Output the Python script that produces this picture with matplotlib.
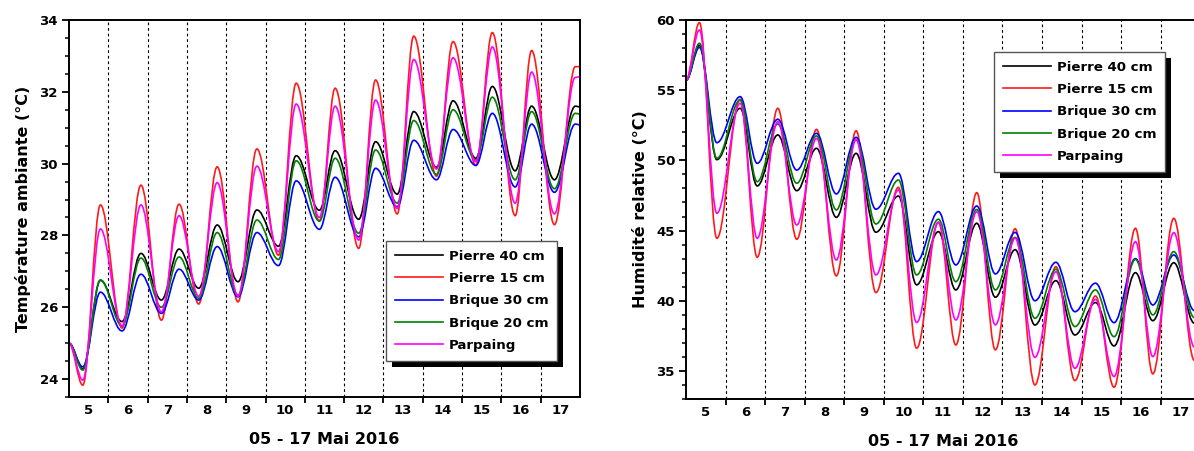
import matplotlib
matplotlib.use("Agg")
import matplotlib.pyplot as plt
from matplotlib.path import Path
from matplotlib.patches import PathPatch, Rectangle
from matplotlib.lines import Line2D

# ---- data (daily extrema, time in days of May 2016) ----
day_labels = ["5", "6", "7", "8", "9", "10", "11", "12", "13", "14", "15", "16", "17"]
series_names = ["Pierre 40 cm", "Pierre 15 cm", "Brique 30 cm", "Brique 20 cm", "Parpaing"]

temp_t = [5.0, 5.35, 5.8, 6.35, 6.83, 7.35, 7.8, 8.3, 8.77, 9.3, 9.78, 10.33, 10.78, 11.37,
          11.77, 12.37, 12.8, 13.35, 13.77, 14.35, 14.77, 15.35, 15.77, 16.35, 16.77, 17.35, 17.88, 18.0]
temp_pierre40 = [25.0, 24.28, 26.75, 25.6, 27.5, 26.2, 27.62, 26.53, 28.29, 26.71, 28.71, 27.7, 30.22, 28.7,
                 30.36, 28.45, 30.61, 29.15, 31.45, 29.9, 31.75, 30.15, 32.15, 29.8, 31.6, 29.55, 31.6, 31.58]
temp_pierre15 = [25.0, 23.83, 28.85, 25.42, 29.4, 25.64, 28.87, 26.09, 29.91, 26.15, 30.41, 27.45, 32.24, 28.4,
                 32.1, 27.64, 32.33, 28.6, 33.55, 29.65, 33.4, 29.95, 33.65, 28.55, 33.15, 28.3, 32.7, 32.7]
temp_brique30 = [25.0, 24.34, 26.42, 25.34, 26.92, 25.83, 27.06, 26.2, 27.69, 26.29, 28.08, 27.16, 29.52, 28.17,
                 29.62, 27.96, 29.87, 28.8, 30.65, 29.55, 30.95, 29.95, 31.4, 29.35, 31.1, 29.2, 31.1, 31.08]
temp_brique20 = [25.0, 24.25, 26.76, 25.48, 27.37, 26.0, 27.4, 26.25, 28.08, 26.34, 28.43, 27.33, 30.08, 28.4,
                 30.15, 28.06, 30.38, 28.9, 31.2, 29.7, 31.5, 30.1, 31.85, 29.55, 31.45, 29.3, 31.4, 31.38]
temp_parpaing = [25.0, 23.97, 28.18, 25.48, 28.85, 25.87, 28.55, 26.3, 29.47, 26.31, 29.93, 27.55, 31.66, 28.5,
                 31.6, 27.87, 31.77, 28.75, 32.9, 29.85, 32.95, 30.05, 33.25, 28.9, 32.55, 28.6, 32.4, 32.42]

hum_t = [5.0, 5.34, 5.78, 6.37, 6.8, 7.32, 7.8, 8.3, 8.8, 9.3, 9.8, 10.37, 10.83, 11.38,
         11.82, 12.35, 12.82, 13.32, 13.82, 14.35, 14.83, 15.35, 15.82, 16.36, 16.8, 17.33, 17.85, 18.0]
hum_pierre40 = [55.7, 58.2, 50.05, 53.71, 48.18, 51.81, 47.84, 50.86, 45.94, 50.5, 44.88, 47.46, 41.13, 44.92,
                40.77, 45.52, 40.25, 43.64, 38.27, 41.43, 37.56, 39.87, 36.78, 42.0, 38.58, 42.71, 38.4, 38.5]
hum_pierre15 = [55.7, 59.81, 44.45, 54.35, 43.1, 53.71, 44.38, 52.21, 41.77, 52.11, 40.58, 48.08, 36.62, 45.6,
                36.85, 47.7, 36.5, 45.13, 34.0, 42.43, 34.31, 40.34, 33.84, 45.16, 34.79, 45.87, 35.75, 35.8]
hum_brique30 = [55.7, 58.05, 51.26, 54.54, 49.79, 52.93, 49.31, 51.93, 47.61, 51.64, 46.52, 49.08, 42.79, 46.35,
                42.55, 46.75, 41.91, 44.87, 40.0, 42.74, 39.22, 41.25, 38.44, 43.0, 39.7, 43.26, 39.3, 39.4]
hum_brique20 = [55.7, 58.34, 50.15, 54.3, 48.48, 52.59, 48.37, 51.74, 46.47, 51.45, 45.47, 48.6, 41.84, 45.81,
                41.36, 46.5, 40.77, 44.51, 38.75, 42.24, 38.16, 40.77, 37.44, 42.95, 38.99, 43.5, 38.8, 38.9]
hum_parpaing = [55.7, 59.29, 46.23, 54.07, 44.45, 52.76, 45.4, 51.57, 42.9, 51.5, 41.84, 47.89, 38.45, 45.57,
                38.63, 46.35, 38.28, 44.46, 35.97, 42.07, 35.19, 40.1, 34.6, 44.21, 36.02, 44.85, 36.7, 36.8]

colors = ["#000000", "#ff1a1a", "#0000ff", "#008000", "#ff00ff"]
FONT = "DejaVu Sans"


def smooth_path(t, v, k=0.363):
    # bezier through the extrema with flat tangents (looks like the daily cycle)
    verts = [(t[0], v[0])]
    codes = [Path.MOVETO]
    for i in range(1, len(t)):
        dt = t[i] - t[i - 1]
        verts += [(t[i - 1] + k * dt, v[i - 1]), (t[i] - k * dt, v[i]), (t[i], v[i])]
        codes += [Path.CURVE4] * 3
    return Path(verts, codes)


def style_axes(ax, ylim, ymajor, yminor, ylabel, legend_xy):
    ax.set_xlim(5, 18)
    ax.set_ylim(*ylim)
    days = list(range(5, 18))
    ax.set_xticks(days[1:])
    ax.set_xticklabels([])
    ax.set_xticks([d + 0.5 for d in days], day_labels, minor=True)
    ax.set_yticks(ymajor)
    ax.set_yticks(yminor, minor=True)
    ax.tick_params(axis="x", which="major", direction="out", length=4, width=1.3)
    ax.tick_params(axis="x", which="minor", length=0, pad=5, labelsize=9.5)
    ax.tick_params(axis="y", which="major", direction="out", length=5, width=1.3, pad=3, labelsize=9.5)
    ax.tick_params(axis="y", which="minor", direction="out", length=3, width=1.1)
    for lab in ax.get_xticklabels(minor=True) + ax.get_yticklabels():
        lab.set_fontweight("bold")
    for s in ax.spines.values():
        s.set_linewidth(1.4)
    ax.grid(axis="x", which="major", color="black", lw=0.8, ls=(0, (2.5, 2.5)))
    ax.set_xlabel("05 - 17 Mai 2016", fontsize=11.5, fontweight="bold", labelpad=11)
    ax.set_ylabel(ylabel, fontsize=11.5, fontweight="bold", labelpad=6)

    handles = [Line2D([], [], color=c, lw=1.2) for c in colors]
    leg = ax.legend(handles, series_names, loc="upper left", bbox_to_anchor=legend_xy,
                    prop={"family": FONT, "weight": "bold", "size": 9.6},
                    handlelength=3.6, handletextpad=0.45, labelspacing=0.7,
                    borderpad=0.65, borderaxespad=0, fancybox=False, framealpha=1,
                    edgecolor="#555555")
    leg.get_frame().set_linewidth(1.0)
    return leg


plt.rcParams["font.family"] = FONT
fig = plt.figure(figsize=(11.94, 4.51), dpi=100)
ax1 = fig.add_axes([69 / 1194, 54 / 451, 511 / 1194, 377 / 451])
ax2 = fig.add_axes([686 / 1194, 52 / 451, 514.3 / 1194, 379 / 451])

temp_series = [temp_pierre40, temp_pierre15, temp_brique30, temp_brique20, temp_parpaing]
hum_series = [hum_pierre40, hum_pierre15, hum_brique30, hum_brique20, hum_parpaing]

for vals, c in zip(temp_series, colors):
    ax1.add_patch(PathPatch(smooth_path(temp_t, vals), fill=False, edgecolor=c, lw=1.2, zorder=2))
for vals, c in zip(hum_series, colors):
    ax2.add_patch(PathPatch(smooth_path(hum_t, vals), fill=False, edgecolor=c, lw=1.2, zorder=2))

leg1 = style_axes(ax1, (23.5, 34), range(24, 35, 2), [x * 0.5 for x in range(47, 69)],
                  "Température ambiante (°C)", (0.621, 0.414))
leg2 = style_axes(ax2, (33, 60), range(35, 61, 5), range(33, 61),
                  "Humidité relative (°C)", (0.599, 0.9156))

# solid black drop shadow behind each legend box
fig.canvas.draw()
for ax, leg in [(ax1, leg1), (ax2, leg2)]:
    bb = leg.get_window_extent()
    inv = ax.transAxes.inverted()
    (x0, y0), (x1, y1) = inv.transform([(bb.x0 + 6, bb.y0 - 6), (bb.x1 + 6, bb.y1 - 6)])
    ax.add_patch(Rectangle((x0, y0), x1 - x0, y1 - y0, transform=ax.transAxes,
                           facecolor="black", edgecolor="none", zorder=4.9))

fig.savefig("out.png", dpi=100)
